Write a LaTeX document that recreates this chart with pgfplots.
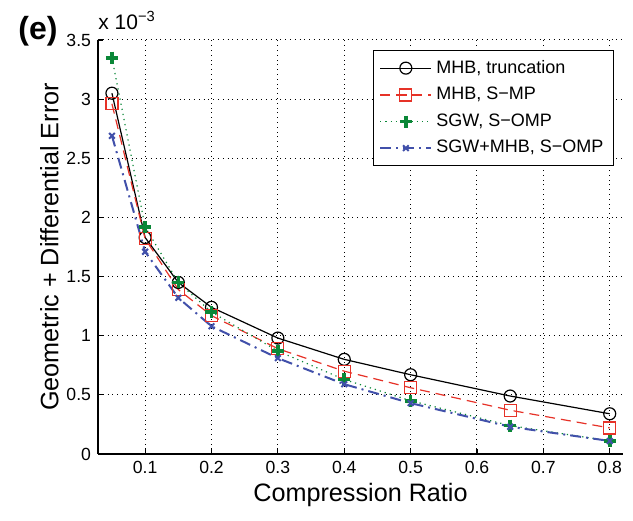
\documentclass[border=0pt]{standalone}
\usepackage{fontspec}
\setmainfont{Liberation Sans}
\usepackage{pgfplots}
\pgfplotsset{compat=1.18}

\definecolor{mred}{RGB}{230,50,40}
\definecolor{mgreen}{RGB}{10,135,55}
\definecolor{mblue}{RGB}{65,80,170}

\begin{document}
\begin{tikzpicture}
\begin{axis}[
    width=262.5pt, height=207pt,
    scale only axis,
    clip=false,
    xmin=0.029, xmax=0.82,
    ymin=0, ymax=3.5,
    xtick={0.1,0.2,...,0.8},
    ytick={0,0.5,...,3.5},
    axis x line*=bottom, axis y line*=left,
    axis line style={line width=0.6pt},
    tick align=inside,
    major tick length=2.5pt,
    tick style={black, line width=0.6pt},
    grid=major,
    major grid style={black, dotted, line width=0.5pt},
    scaled ticks=false,
    /pgf/number format/assume math mode=true,
    tick label style={font=\fontsize{8.8}{10}\selectfont},
    xlabel={Compression Ratio},
    ylabel={Geometric + Differential Error},
    label style={font=\fontsize{12.6}{14}\selectfont},
    xlabel style={yshift=2pt},
    ylabel style={yshift=-3pt},
    legend cell align=left,
    legend style={at={(rel axis cs:0.983,0.977)}, anchor=north east,
        font=\fontsize{9}{11}\selectfont, draw=black, line width=0.6pt,
        inner xsep=3pt, inner ysep=3pt, row sep=1.5pt},
    legend image code/.code={
        \draw[mark repeat=2,mark phase=2] plot coordinates {(0cm,0cm) (0.45cm,0cm) (0.9cm,0cm)};},
]
% MHB, truncation
\addplot[black, line width=0.6pt, mark=o, mark size=3pt, mark options={solid}] coordinates {
(0.05,3.05) (0.1,1.83) (0.15,1.45) (0.2,1.24) (0.3,0.98) (0.4,0.80) (0.5,0.67) (0.65,0.49) (0.8,0.34)};
\addlegendentry{MHB, truncation}
% MHB, S-MP
\addplot[mred, line width=0.6pt, dash pattern=on 5pt off 3pt, mark=square, mark size=3pt, mark options={solid}] coordinates {
(0.05,2.96) (0.1,1.82) (0.15,1.39) (0.2,1.17) (0.3,0.89) (0.4,0.70) (0.5,0.56) (0.65,0.37) (0.8,0.22)};
\addlegendentry{MHB, S−MP}
% SGW, S-OMP
\addplot[mgreen, line width=0.6pt, dotted, mark=+, mark size=3pt, mark options={solid, line width=1.8pt}] coordinates {
(0.05,3.35) (0.1,1.92) (0.15,1.45) (0.2,1.20) (0.3,0.87) (0.4,0.63) (0.5,0.45) (0.65,0.24) (0.8,0.11)};
\addlegendentry{SGW, S−OMP}
% SGW+MHB, S-OMP
\addplot[mblue, line width=1pt, dash pattern=on 5.5pt off 2.5pt on 1pt off 2.5pt, mark=x, mark size=2pt, mark options={solid, line width=1pt}] coordinates {
(0.05,2.69) (0.1,1.71) (0.15,1.32) (0.2,1.08) (0.3,0.81) (0.4,0.59) (0.5,0.43) (0.65,0.23) (0.8,0.11)};
\addlegendentry{SGW+MHB, S−OMP}
\node[anchor=south west, font=\fontsize{10.5}{12}\selectfont, inner sep=0pt] at ([yshift=5pt]rel axis cs:0,1) {x 10\textsuperscript{−3}};
\node[font=\fontsize{16}{18}\selectfont\bfseries] at ([xshift=-30pt,yshift=4.5pt]rel axis cs:0,1) {(e)};
\end{axis}
\pgfresetboundingbox
\path[use as bounding box] ([shift={(-49pt,-33.5pt)}]current axis.south west) rectangle ([shift={(5pt,20pt)}]current axis.north east);
\end{tikzpicture}
\end{document}
